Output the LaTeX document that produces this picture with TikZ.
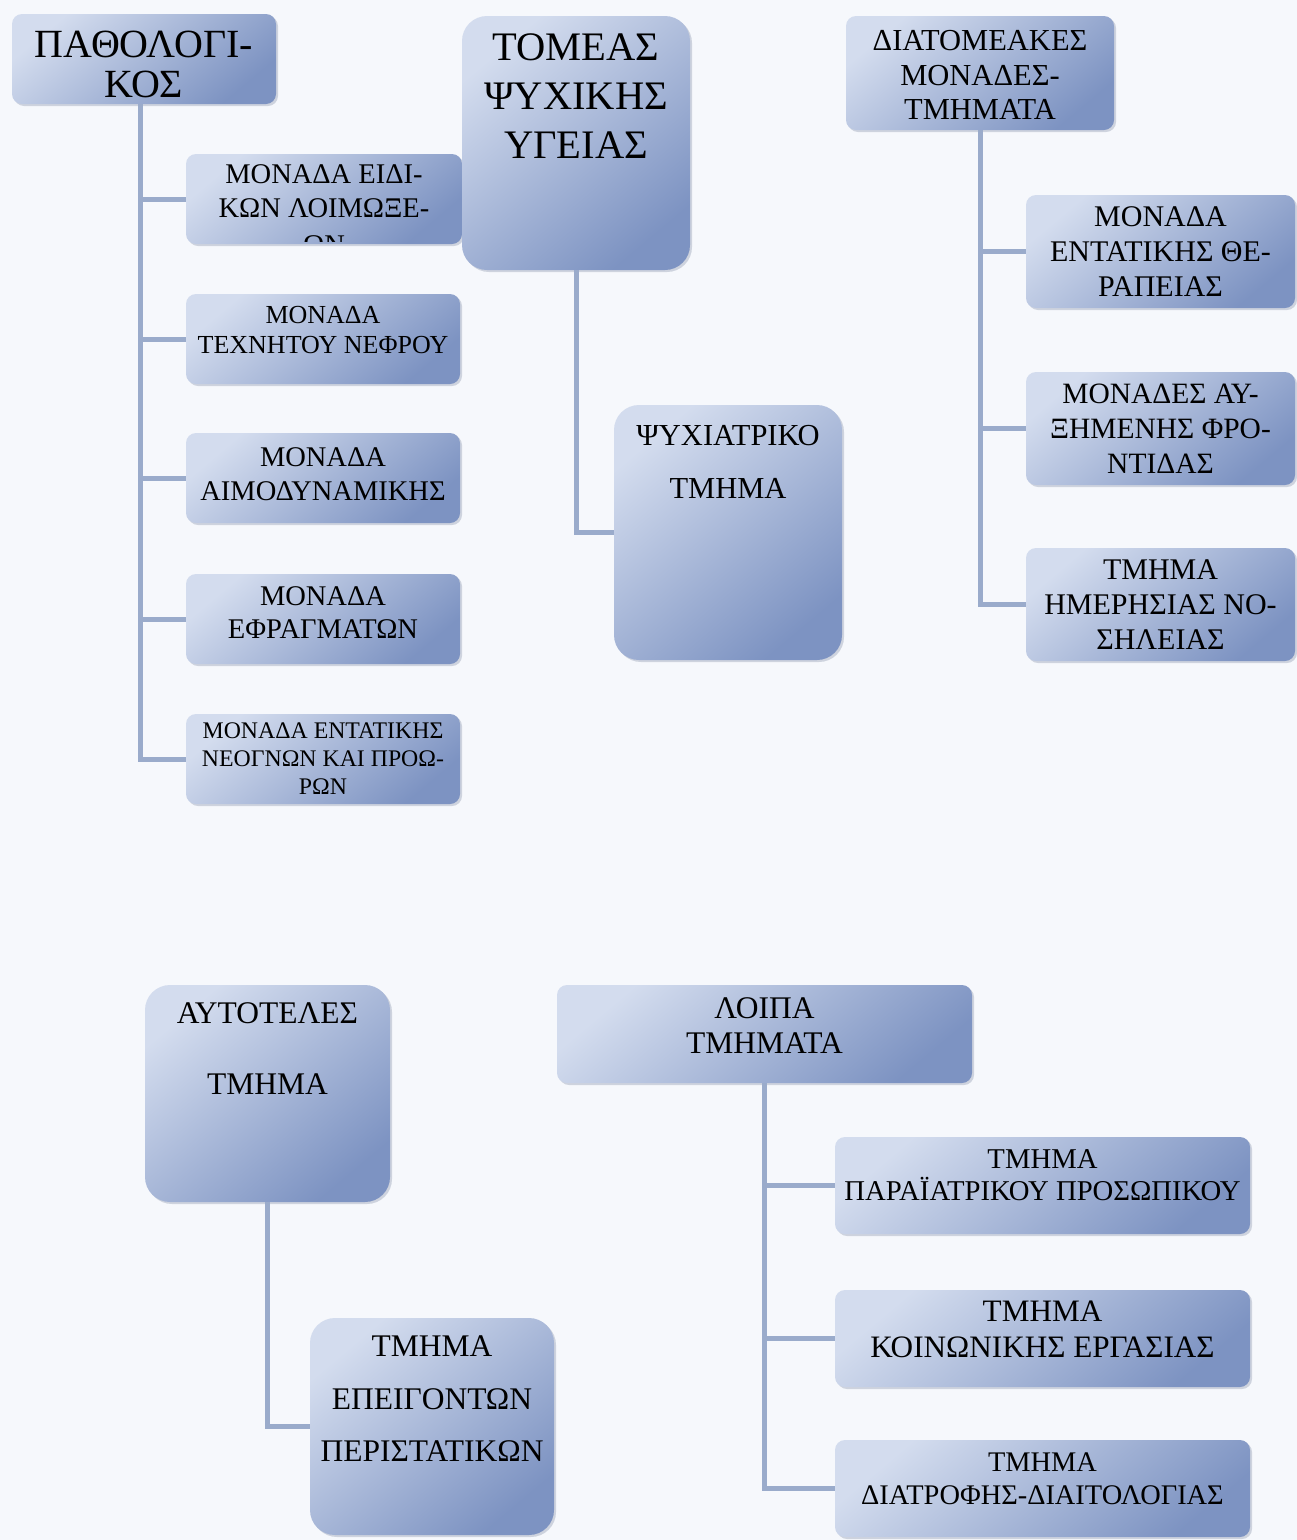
\documentclass[tikz,border=0pt]{standalone}
\usepackage{fontspec}
\setmainfont{Liberation Serif}
\usetikzlibrary{shadows}
\definecolor{bg}{HTML}{F6F8FC}
\definecolor{boxlight}{HTML}{D3DCEE}
\definecolor{boxdark}{HTML}{7D93C2}
\definecolor{conncol}{HTML}{9AABCB}
\tikzset{
  box/.style={draw=none, rounded corners=10pt, top color=boxlight, bottom color=boxdark, shading angle=40,
    drop shadow={shadow xshift=2pt, shadow yshift=-2pt, opacity=0.25, fill=boxdark!70!black},
    align=center, inner sep=0pt, text=black},
  tallbox/.style={box, rounded corners=25pt},
  txt/.style={align=center, inner sep=0pt, text=black},
  conn/.style={draw=conncol, line width=5pt}
}
% #1 name, #2 centre, #3 width, #4 height, #5 text shift (canvas, negative = down), #6 font, #7 text
\newcommand\gbox[7]{%
  \node[box, minimum width=#3pt, minimum height=#4pt] (#1) at #2 {};
  \node[txt, font=#6] (#1-t) at ([yshift=#5pt]#1.center) {#7};}
\begin{document}
\begin{tikzpicture}[x=1pt,y=-1pt]
\useasboundingbox (0,0) rectangle (1297,1540);
\fill[bg] (0,0) rectangle (1297,1540);

% ---------- left group ----------
\gbox{pat}{(144,59)}{264}{90}{-5}{\fontsize{40}{40}\selectfont}{ΠΑΘΟΛΟΓΙ-\\ΚΟΣ}
\node[box, minimum width=276pt, minimum height=90pt] (ei) at (324,199) {};
\begin{scope}
\clip[rounded corners=10pt] (186,154) rectangle (462,241);
\node[txt, font=\fontsize{28.5}{34}\selectfont, anchor=north] (ei-t) at ([yshift=-11pt]ei.north) {ΜΟΝΑΔΑ ΕΙΔΙ-\\ΚΩΝ ΛΟΙΜΩΞΕ-\\[3pt]ΩΝ};
\end{scope}
\gbox{nef}{(323,339)}{274}{90}{9}{\fontsize{26}{30}\selectfont}{ΜΟΝΑΔΑ\\ΤΕΧΝΗΤΟΥ ΝΕΦΡΟΥ}
\gbox{aim}{(323,478)}{274}{90}{4}{\fontsize{28.5}{34}\selectfont}{ΜΟΝΑΔΑ\\ΑΙΜΟΔΥΝΑΜΙΚΗΣ}
\gbox{efr}{(323,619)}{274}{90}{6}{\fontsize{28.5}{33}\selectfont}{ΜΟΝΑΔΑ\\ΕΦΡΑΓΜΑΤΩΝ}
\gbox{neo}{(323,759)}{274}{90}{0}{\fontsize{23.8}{28}\selectfont}{ΜΟΝΑΔΑ ΕΝΤΑΤΙΚΗΣ\\ΝΕΟΓΝΩΝ ΚΑΙ ΠΡΟΩ-\\ΡΩΝ}
\foreach \c in {ei,nef,aim,efr,neo}{
  \draw[conn] ([xshift=-4pt]pat.south) |- (\c.west);
}

% ---------- ΤΟΜΕΑΣ ΨΥΧΙΚΗΣ ΥΓΕΙΑΣ ----------
\node[tallbox, minimum width=228pt, minimum height=254pt] (tom) at (576,143)
  {\parbox[c][254pt][t]{226pt}{\centering\fontsize{40.5}{49}\selectfont\vspace*{18pt}ΤΟΜΕΑΣ\\ΨΥΧΙΚΗΣ\\ΥΓΕΙΑΣ}};
\node[tallbox, minimum width=228pt, minimum height=255pt] (psy) at (728,532.5)
  {\parbox[c][255pt][t]{226pt}{\centering\fontsize{30.5}{53}\selectfont\vspace*{20pt}ΨΥΧΙΑΤΡΙΚΟ\\ΤΜΗΜΑ}};
\draw[conn] (tom.south) |- (psy.west);

% ---------- ΔΙΑΤΟΜΕΑΚΕΣ ----------
\gbox{dia}{(980,73)}{268}{114}{-2}{\fontsize{30.5}{34.5}\selectfont}{ΔΙΑΤΟΜΕΑΚΕΣ\\ΜΟΝΑΔΕΣ-\\ΤΜΗΜΑΤΑ}
\gbox{int}{(1160.5,251.5)}{269}{113}{0}{\fontsize{30}{35}\selectfont}{ΜΟΝΑΔΑ\\ΕΝΤΑΤΙΚΗΣ ΘΕ-\\ΡΑΠΕΙΑΣ}
\gbox{auk}{(1160.5,428.5)}{269}{113}{0}{\fontsize{29.5}{35}\selectfont}{ΜΟΝΑΔΕΣ ΑΥ-\\ΞΗΜΕΝΗΣ ΦΡΟ-\\ΝΤΙΔΑΣ}
\gbox{hme}{(1160.5,604.5)}{269}{113}{0}{\fontsize{30}{35}\selectfont}{ΤΜΗΜΑ\\ΗΜΕΡΗΣΙΑΣ ΝΟ-\\ΣΗΛΕΙΑΣ}
\foreach \c in {int,auk,hme}{
  \draw[conn] (dia.south) |- (\c.west);
}

% ---------- ΑΥΤΟΤΕΛΕΣ ΤΜΗΜΑ ----------
\node[tallbox, minimum width=245pt, minimum height=217pt] (aut) at (267.5,1093.5)
  {\parbox[c][217pt][t]{243pt}{\centering\fontsize{31.5}{71}\selectfont\vspace*{18pt}ΑΥΤΟΤΕΛΕΣ\\ΤΜΗΜΑ}};
\node[tallbox, minimum width=244pt, minimum height=217pt] (epe) at (432,1426.5)
  {\parbox[c][217pt][t]{242pt}{\centering\fontsize{31.5}{52.5}\selectfont\vspace*{18pt}ΤΜΗΜΑ\\ΕΠΕΙΓΟΝΤΩΝ\\ΠΕΡΙΣΤΑΤΙΚΩΝ}};
\draw[conn] (aut.south) |- (epe.west);

% ---------- ΛΟΙΠΑ ΤΜΗΜΑΤΑ ----------
\gbox{loi}{(764.5,1034)}{415}{98}{8}{\fontsize{31.5}{35}\selectfont}{ΛΟΙΠΑ\\ΤΜΗΜΑΤΑ}
\gbox{par}{(1042.5,1185.5)}{415}{97}{10}{\fontsize{28.7}{32}\selectfont}{ΤΜΗΜΑ\\ΠΑΡΑΪΑΤΡΙΚΟΥ ΠΡΟΣΩΠΙΚΟΥ}
\gbox{koi}{(1042.5,1338.5)}{415}{97}{9}{\fontsize{31.2}{36}\selectfont}{ΤΜΗΜΑ\\ΚΟΙΝΩΝΙΚΗΣ ΕΡΓΑΣΙΑΣ}
\gbox{dit}{(1042.5,1488.5)}{415}{97}{10}{\fontsize{28.4}{33}\selectfont}{ΤΜΗΜΑ\\ΔΙΑΤΡΟΦΗΣ-ΔΙΑΙΤΟΛΟΓΙΑΣ}
\foreach \c in {par,koi,dit}{
  \draw[conn] (loi.south) |- (\c.west);
}
\end{tikzpicture}
\end{document}
